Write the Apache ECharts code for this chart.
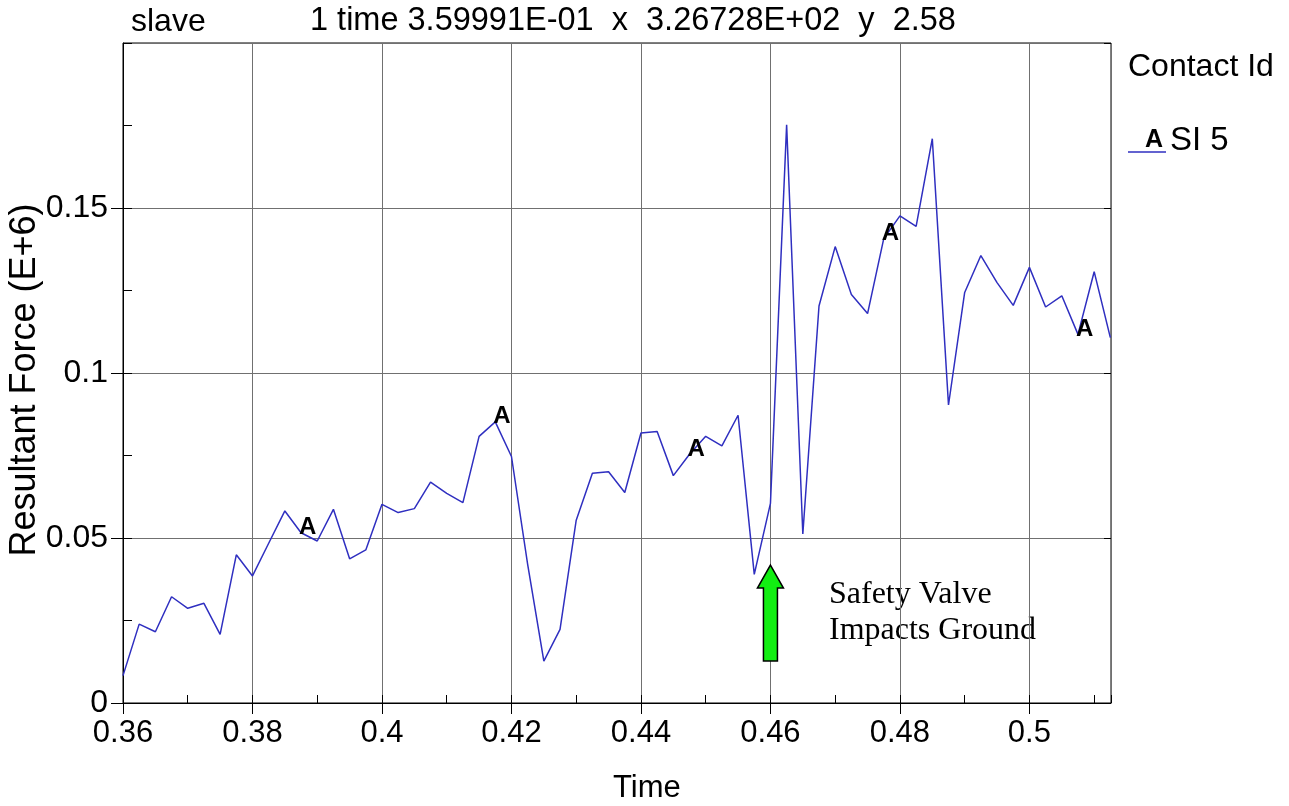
<!DOCTYPE html>
<html><head><meta charset="utf-8">
<script src="https://cdn.jsdelivr.net/npm/echarts@6/dist/echarts.min.js"></script>
<style>html,body{margin:0;padding:0;background:#fff}#c{width:1289px;height:806px}</style>
</head><body><div id="c"></div>
<script>
// ---- data ----
const TIME = [0.36, 0.3625, 0.365, 0.3675, 0.37, 0.3725, 0.375, 0.3775, 0.38, 0.3825,
  0.385, 0.3875, 0.39, 0.3925, 0.395, 0.3975, 0.4, 0.4025, 0.405, 0.4075,
  0.41, 0.4125, 0.415, 0.4175, 0.42, 0.4225, 0.425, 0.4275, 0.43, 0.4325,
  0.435, 0.4375, 0.44, 0.4425, 0.445, 0.4475, 0.45, 0.4525, 0.455, 0.4575,
  0.46, 0.4625, 0.465, 0.4675, 0.47, 0.4725, 0.475, 0.4775, 0.48, 0.4825,
  0.485, 0.4875, 0.49, 0.4925, 0.495, 0.4975, 0.5, 0.5025, 0.505, 0.5075,
  0.51, 0.5125];
const FORCE = [0.0083, 0.0239, 0.0216, 0.0322, 0.0287, 0.0302, 0.0208, 0.0449, 0.0385, 0.0484,
  0.0582, 0.0516, 0.0491, 0.0587, 0.0437, 0.0464, 0.0602, 0.0577, 0.0589, 0.0669,
  0.0635, 0.0607, 0.0808, 0.0852, 0.0747, 0.0420, 0.0127, 0.0223, 0.0554, 0.0696,
  0.0701, 0.0638, 0.0818, 0.0823, 0.0689, 0.0754, 0.0808, 0.0779, 0.0872, 0.0390,
  0.0605, 0.1752, 0.0512, 0.1203, 0.1383, 0.1238, 0.1180, 0.1407, 0.1476, 0.1444,
  0.1710, 0.0903, 0.1244, 0.1356, 0.1274, 0.1205, 0.1320, 0.1200, 0.1234, 0.1117,
  0.1307, 0.1107];
const MARKER_INDEX = [11, 23, 35, 47, 59];
const SERIES_NAME = 'SI 5';
const MARKER_LABEL = 'A';
const LEGEND_TITLE = 'Contact Id';
const HEADER_LEFT = 'slave';
const HEADER_RIGHT = '1 time 3.59991E-01  x  3.26728E+02  y  2.58';
const X_NAME = 'Time';
const Y_NAME = 'Resultant Force (E+6)';
const NOTE = ['Safety Valve', 'Impacts Ground'];
const ARROW = { t: 0.46, top: 0.0418, bottom: 0.0127 };

const SANS = 'Liberation Sans, Arial, sans-serif';
const SERIF = 'Liberation Serif, Times New Roman, serif';
const BLUE = '#2f2fc0';
const GRID_GRAY = '#707070';
const XMIN = 0.36, XMAX = 0.5126, YMIN = 0, YMAX = 0.2;

const chart = echarts.init(document.getElementById('c'), null, { renderer: 'canvas' });

const option = {
  animation: false,
  backgroundColor: '#ffffff',
  grid: { left: 123, right: 178, top: 43, bottom: 103, show: true, borderColor: '#000', borderWidth: 1, backgroundColor: 'transparent' },
  xAxis: [
    { type: 'value', min: XMIN, max: XMAX, interval: 0.02,
      axisLine: { show: true, lineStyle: { color: '#000', width: 1 } },
      axisTick: { show: true, inside: false, length: 11, lineStyle: { color: '#000' } },
      axisLabel: { showMaxLabel: false, color: '#000', fontSize: 31, fontFamily: SANS, margin: 15 },
      splitLine: { show: true, lineStyle: { color: GRID_GRAY, width: 1 } } },
    { type: 'value', min: XMIN, max: XMAX, interval: 0.01, position: 'bottom',
      axisLine: { show: false }, axisTick: { show: true, inside: true, length: 8, lineStyle: { color: '#000' } },
      axisLabel: { show: false }, splitLine: { show: false } }
  ],
  yAxis: [
    { type: 'value', min: YMIN, max: YMAX, interval: 0.05,
      axisLine: { show: true, lineStyle: { color: '#000', width: 1 } },
      axisTick: { show: true, inside: false, length: 12, lineStyle: { color: '#000' } },
      axisLabel: { showMaxLabel: false, color: '#000', fontSize: 32, fontFamily: SANS, margin: 15 },
      splitLine: { show: true, lineStyle: { color: GRID_GRAY, width: 1 } } },
    { type: 'value', min: YMIN, max: YMAX, interval: 0.025, position: 'left',
      axisLine: { show: false }, axisTick: { show: true, inside: true, length: 9, lineStyle: { color: '#000' } },
      axisLabel: { show: false }, splitLine: { show: false } },
    { type: 'value', min: YMIN, max: YMAX, interval: 0.05, position: 'right',
      axisLine: { show: false }, axisTick: { show: true, inside: true, length: 7, lineStyle: { color: '#000' } },
      axisLabel: { show: false }, splitLine: { show: false } }
  ],
  series: [
    { name: SERIES_NAME, type: 'line', xAxisIndex: 0, yAxisIndex: 0,
      data: TIME.map((t, i) => [t, FORCE[i]]),
      symbol: 'none', showSymbol: false, z: 3,
      lineStyle: { color: BLUE, width: 1.5 } },
    { type: 'scatter', xAxisIndex: 0, yAxisIndex: 0,
      data: MARKER_INDEX.map(i => [TIME[i], FORCE[i]]),
      symbol: 'circle', symbolSize: 2, itemStyle: { color: BLUE, opacity: 1 }, z: 4,
      emphasis: { disabled: true },
      label: { show: true, formatter: MARKER_LABEL, position: [-1, 8], align: 'left', verticalAlign: 'bottom',
        color: '#000', opacity: 1, fontSize: 24, fontWeight: 'bold', fontFamily: SANS } }
  ],
  graphic: [
    { type: 'text', left: 131, top: 6, style: { text: HEADER_LEFT, fontSize: 32, fontFamily: SANS, fill: '#000' } },
    { type: 'text', left: 310, top: 5, style: { text: HEADER_RIGHT, fontSize: 32.5, fontFamily: SANS, fill: '#000' } },
    { type: 'text', left: 1128, top: 51, style: { text: LEGEND_TITLE, fontSize: 32, fontFamily: SANS, fill: '#000' } },
    { type: 'line', shape: { x1: 1128, y1: 152, x2: 1166, y2: 152 }, style: { stroke: BLUE, lineWidth: 1.5 } },
    { type: 'text', left: 1145, top: 128, style: { text: MARKER_LABEL, fontSize: 25, fontWeight: 'bold', fontFamily: SANS, fill: '#000' } },
    { type: 'text', left: 1170, top: 124, style: { text: SERIES_NAME, fontSize: 33, fontFamily: SANS, fill: '#000' } },
    { type: 'text', left: 613, top: 773, style: { text: X_NAME, fontSize: 31, fontFamily: SANS, fill: '#000' } },
    { type: 'text', x: 25, y: 380, rotation: Math.PI / 2,
      style: { text: Y_NAME, fontSize: 36, fontFamily: SANS, fill: '#000', align: 'center', verticalAlign: 'middle' } },
    { type: 'text', left: 829, top: 577, style: { text: NOTE.join('\n'), fontSize: 32, lineHeight: 36, fontFamily: SERIF, fill: '#000' } }
  ]
};
chart.setOption(option);

// arrow annotation placed in data coordinates
const tip = chart.convertToPixel({ xAxisIndex: 0, yAxisIndex: 0 }, [ARROW.t, ARROW.top]);
const base = chart.convertToPixel({ xAxisIndex: 0, yAxisIndex: 0 }, [ARROW.t, ARROW.bottom]);
const cx = tip[0], ty = tip[1], by = base[1];
chart.setOption({ graphic: option.graphic.concat([{
  type: 'polygon', z: 10,
  shape: { points: [[cx, ty], [cx + 13, ty + 23], [cx + 7, ty + 23], [cx + 7, by], [cx - 7, by], [cx - 7, ty + 23], [cx - 13, ty + 23]] },
  style: { fill: '#12ee12', stroke: '#000', lineWidth: 1.5 }
}]) });
</script>
</body></html>
